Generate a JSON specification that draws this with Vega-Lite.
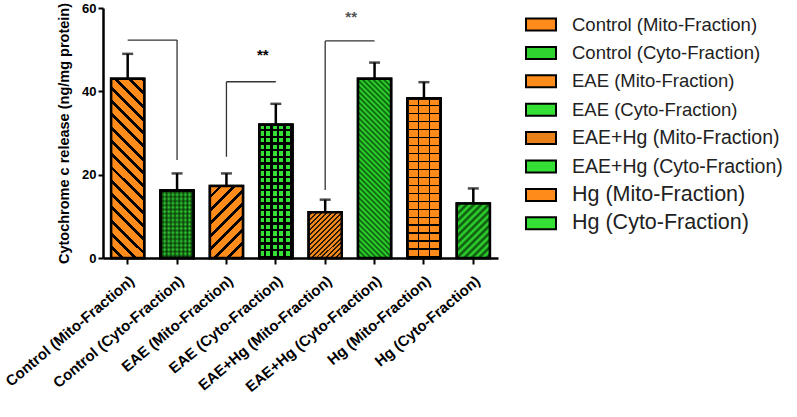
{
  "$schema": "https://vega.github.io/schema/vega-lite/v6.json",
  "width": 395,
  "height": 250,
  "autosize": {"type": "none"},
  "padding": {"left": 103, "top": 8, "right": 299, "bottom": 159},
  "background": "white",
  "config": {"view": {"stroke": null}, "font": "Liberation Sans"},
  "datasets": {
    "bars": [
      {"group": "Control (Mito-Fraction)", "mean": 43.0, "upper": 49.0},
      {"group": "Control (Cyto-Fraction)", "mean": 16.2, "upper": 20.3},
      {"group": "EAE (Mito-Fraction)", "mean": 17.3, "upper": 20.3},
      {"group": "EAE (Cyto-Fraction)", "mean": 32.0, "upper": 37.0},
      {"group": "EAE+Hg (Mito-Fraction)", "mean": 11.0, "upper": 14.0},
      {"group": "EAE+Hg (Cyto-Fraction)", "mean": 43.0, "upper": 46.9},
      {"group": "Hg (Mito-Fraction)", "mean": 38.3, "upper": 42.2},
      {"group": "Hg (Cyto-Fraction)", "mean": 13.1, "upper": 16.7}
    ],
    "hbr": [
      {"group": "Control (Mito-Fraction)", "group2": "Control (Cyto-Fraction)", "y": 52.3},
      {"group": "EAE (Mito-Fraction)", "group2": "EAE (Cyto-Fraction)", "y": 42.3},
      {"group": "EAE+Hg (Mito-Fraction)", "group2": "EAE+Hg (Cyto-Fraction)", "y": 52.1}
    ],
    "vbr": [
      {"group": "Control (Cyto-Fraction)", "y": 52.3, "y2": 23.5},
      {"group": "EAE (Mito-Fraction)", "y": 42.3, "y2": 24.3},
      {"group": "EAE+Hg (Mito-Fraction)", "y": 52.1, "y2": 16.3}
    ],
    "stars1": [{"group": "EAE (Cyto-Fraction)", "y": 48.7, "label": "**"}],
    "stars2": [{"group": "EAE+Hg (Mito-Fraction)", "y": 57.8, "label": "**"}]
  },
  "encoding": {
    "x": {
      "field": "group", "type": "nominal",
      "scale": {"domain": ["Control (Mito-Fraction)", "Control (Cyto-Fraction)", "EAE (Mito-Fraction)", "EAE (Cyto-Fraction)", "EAE+Hg (Mito-Fraction)", "EAE+Hg (Cyto-Fraction)", "Hg (Mito-Fraction)", "Hg (Cyto-Fraction)"], "paddingInner": 0.33, "paddingOuter": 0.165},
      "axis": {"title": null, "labelAngle": -40, "labelFontWeight": "bold", "labelFontSize": 15, "labelColor": "#000", "domainColor": "#000", "domainWidth": 2.5, "tickColor": "#000", "tickWidth": 2, "tickSize": 6, "labelPadding": 9}
    }
  },
  "layer": [
    {
      "data": {"name": "bars"},
      "mark": {"type": "bar", "stroke": "#000", "strokeWidth": 2.5, "fillOpacity": 1},
      "encoding": {
        "y": {"field": "mean", "type": "quantitative", "scale": {"domain": [0, 60], "nice": false},
          "axis": {"title": "Cytochrome c release (ng/mg protein)", "titleFontSize": 14.5, "titleFontWeight": "bold", "titleColor": "#000", "titlePadding": 10, "values": [0, 20, 40, 60], "labelFontSize": 13, "labelFontWeight": "bold", "labelColor": "#000", "domainColor": "#000", "domainWidth": 2.5, "tickColor": "#000", "tickWidth": 2, "tickSize": 5, "grid": false}},
        "color": {"field": "group", "type": "nominal",
          "scale": {"domain": ["Control (Mito-Fraction)", "Control (Cyto-Fraction)", "EAE (Mito-Fraction)", "EAE (Cyto-Fraction)", "EAE+Hg (Mito-Fraction)", "EAE+Hg (Cyto-Fraction)", "Hg (Mito-Fraction)", "Hg (Cyto-Fraction)"],
            "range": ["#ff8c1a", "#2fd42f", "#ff8c1a", "#33e033", "#e8801a", "#33e033", "#ff8c1a", "#33e033"]},
          "legend": {"title": null, "orient": "none", "legendX": 424.5, "legendY": 3, "symbolType": "M-1.2,-0.48H1.2V0.48H-1.2Z", "symbolSize": 625, "symbolStrokeColor": "#000", "symbolStrokeWidth": 2, "symbolOpacity": 1, "labelOffset": 17.5, "labelFontSize": 18.5, "labelColor": "#222", "labelLimit": 400, "rowPadding": 4.4,
            "encode": {"labels": {"update": {"fontSize": {"signal": "indexof('' + datum.value, 'EAE+Hg') >= 0 ? 19.5 : (indexof('' + datum.value, 'Hg') >= 0 ? 21.5 : 18.5)"}}}}}}
      }
    },
    {
      "data": {"name": "bars"},
      "transform": [{"filter": "datum.group === 'Control (Mito-Fraction)'"}],
      "mark": {"type": "bar", "stroke": "#000", "strokeWidth": 2.5,
        "fill": {"gradient": "linear", "x1": 0, "y1": 1, "x2": 0.2112, "y2": -0.1454, "stops": [
          {"offset": 0, "color": "#ff8c1a"}, {"offset": 0.0438, "color": "#ff8c1a"}, {"offset": 0.0438, "color": "#000"}, {"offset": 0.0625, "color": "#000"},
          {"offset": 0.0625, "color": "#ff8c1a"}, {"offset": 0.1063, "color": "#ff8c1a"}, {"offset": 0.1063, "color": "#000"}, {"offset": 0.125, "color": "#000"},
          {"offset": 0.125, "color": "#ff8c1a"}, {"offset": 0.1688, "color": "#ff8c1a"}, {"offset": 0.1688, "color": "#000"}, {"offset": 0.1875, "color": "#000"},
          {"offset": 0.1875, "color": "#ff8c1a"}, {"offset": 0.2313, "color": "#ff8c1a"}, {"offset": 0.2313, "color": "#000"}, {"offset": 0.25, "color": "#000"},
          {"offset": 0.25, "color": "#ff8c1a"}, {"offset": 0.2938, "color": "#ff8c1a"}, {"offset": 0.2938, "color": "#000"}, {"offset": 0.3125, "color": "#000"},
          {"offset": 0.3125, "color": "#ff8c1a"}, {"offset": 0.3563, "color": "#ff8c1a"}, {"offset": 0.3563, "color": "#000"}, {"offset": 0.375, "color": "#000"},
          {"offset": 0.375, "color": "#ff8c1a"}, {"offset": 0.4188, "color": "#ff8c1a"}, {"offset": 0.4188, "color": "#000"}, {"offset": 0.4375, "color": "#000"},
          {"offset": 0.4375, "color": "#ff8c1a"}, {"offset": 0.4813, "color": "#ff8c1a"}, {"offset": 0.4813, "color": "#000"}, {"offset": 0.5, "color": "#000"},
          {"offset": 0.5, "color": "#ff8c1a"}, {"offset": 0.5438, "color": "#ff8c1a"}, {"offset": 0.5438, "color": "#000"}, {"offset": 0.5625, "color": "#000"},
          {"offset": 0.5625, "color": "#ff8c1a"}, {"offset": 0.6063, "color": "#ff8c1a"}, {"offset": 0.6063, "color": "#000"}, {"offset": 0.625, "color": "#000"},
          {"offset": 0.625, "color": "#ff8c1a"}, {"offset": 0.6688, "color": "#ff8c1a"}, {"offset": 0.6688, "color": "#000"}, {"offset": 0.6875, "color": "#000"},
          {"offset": 0.6875, "color": "#ff8c1a"}, {"offset": 0.7313, "color": "#ff8c1a"}, {"offset": 0.7313, "color": "#000"}, {"offset": 0.75, "color": "#000"},
          {"offset": 0.75, "color": "#ff8c1a"}, {"offset": 0.7938, "color": "#ff8c1a"}, {"offset": 0.7938, "color": "#000"}, {"offset": 0.8125, "color": "#000"},
          {"offset": 0.8125, "color": "#ff8c1a"}, {"offset": 0.8563, "color": "#ff8c1a"}, {"offset": 0.8563, "color": "#000"}, {"offset": 0.875, "color": "#000"},
          {"offset": 0.875, "color": "#ff8c1a"}, {"offset": 0.9188, "color": "#ff8c1a"}, {"offset": 0.9188, "color": "#000"}, {"offset": 0.9375, "color": "#000"},
          {"offset": 0.9375, "color": "#ff8c1a"}, {"offset": 0.9813, "color": "#ff8c1a"}, {"offset": 0.9813, "color": "#000"}, {"offset": 1, "color": "#000"}
        ]}},
      "encoding": {"y": {"field": "mean", "type": "quantitative"}}
    },
    {
      "data": {"name": "bars"},
      "transform": [{"filter": "datum.group === 'Control (Cyto-Fraction)'"}],
      "mark": {"type": "bar", "stroke": "#000", "strokeWidth": 2.5,
        "fill": {"gradient": "linear", "x1": 0, "y1": 0, "x2": 1, "y2": 0, "stops": [
          {"offset": 0, "color": "#33e033"}, {"offset": 0.0625, "color": "#145814"}, {"offset": 0.125, "color": "#33e033"}, {"offset": 0.1875, "color": "#145814"},
          {"offset": 0.25, "color": "#33e033"}, {"offset": 0.3125, "color": "#145814"}, {"offset": 0.375, "color": "#33e033"}, {"offset": 0.4375, "color": "#145814"},
          {"offset": 0.5, "color": "#33e033"}, {"offset": 0.5625, "color": "#145814"}, {"offset": 0.625, "color": "#33e033"}, {"offset": 0.6875, "color": "#145814"},
          {"offset": 0.75, "color": "#33e033"}, {"offset": 0.8125, "color": "#145814"}, {"offset": 0.875, "color": "#33e033"}, {"offset": 0.9375, "color": "#145814"},
          {"offset": 1, "color": "#33e033"}
        ]}},
      "encoding": {"y": {"field": "mean", "type": "quantitative"}}
    },
    {
      "data": {"name": "bars"},
      "transform": [{"filter": "datum.group === 'Control (Cyto-Fraction)'"}],
      "mark": {"type": "bar", "stroke": "#000", "strokeWidth": 2.5,
        "fill": {"gradient": "linear", "x1": 0, "y1": 0, "x2": 0, "y2": 1, "stops": [
          {"offset": 0, "color": "rgba(0,0,0,0)"}, {"offset": 0.0313, "color": "rgba(0,30,0,0.55)"}, {"offset": 0.0625, "color": "rgba(0,0,0,0)"}, {"offset": 0.0938, "color": "rgba(0,30,0,0.55)"},
          {"offset": 0.125, "color": "rgba(0,0,0,0)"}, {"offset": 0.1563, "color": "rgba(0,30,0,0.55)"}, {"offset": 0.1875, "color": "rgba(0,0,0,0)"}, {"offset": 0.2188, "color": "rgba(0,30,0,0.55)"},
          {"offset": 0.25, "color": "rgba(0,0,0,0)"}, {"offset": 0.2813, "color": "rgba(0,30,0,0.55)"}, {"offset": 0.3125, "color": "rgba(0,0,0,0)"}, {"offset": 0.3438, "color": "rgba(0,30,0,0.55)"},
          {"offset": 0.375, "color": "rgba(0,0,0,0)"}, {"offset": 0.4063, "color": "rgba(0,30,0,0.55)"}, {"offset": 0.4375, "color": "rgba(0,0,0,0)"}, {"offset": 0.4688, "color": "rgba(0,30,0,0.55)"},
          {"offset": 0.5, "color": "rgba(0,0,0,0)"}, {"offset": 0.5313, "color": "rgba(0,30,0,0.55)"}, {"offset": 0.5625, "color": "rgba(0,0,0,0)"}, {"offset": 0.5938, "color": "rgba(0,30,0,0.55)"},
          {"offset": 0.625, "color": "rgba(0,0,0,0)"}, {"offset": 0.6563, "color": "rgba(0,30,0,0.55)"}, {"offset": 0.6875, "color": "rgba(0,0,0,0)"}, {"offset": 0.7188, "color": "rgba(0,30,0,0.55)"},
          {"offset": 0.75, "color": "rgba(0,0,0,0)"}, {"offset": 0.7813, "color": "rgba(0,30,0,0.55)"}, {"offset": 0.8125, "color": "rgba(0,0,0,0)"}, {"offset": 0.8438, "color": "rgba(0,30,0,0.55)"},
          {"offset": 0.875, "color": "rgba(0,0,0,0)"}, {"offset": 0.9063, "color": "rgba(0,30,0,0.55)"}, {"offset": 0.9375, "color": "rgba(0,0,0,0)"}, {"offset": 0.9688, "color": "rgba(0,30,0,0.55)"},
          {"offset": 1, "color": "rgba(0,0,0,0)"}
        ]}},
      "encoding": {"y": {"field": "mean", "type": "quantitative"}}
    },
    {
      "data": {"name": "bars"},
      "transform": [{"filter": "datum.group === 'EAE (Mito-Fraction)'"}],
      "mark": {"type": "bar", "stroke": "#000", "strokeWidth": 2.5,
        "fill": {"gradient": "linear", "x1": 0, "y1": 0, "x2": 0.5524, "y2": 1.2051, "stops": [
          {"offset": 0, "color": "#ff8c1a"}, {"offset": 0.0875, "color": "#ff8c1a"}, {"offset": 0.0875, "color": "#000"}, {"offset": 0.125, "color": "#000"},
          {"offset": 0.125, "color": "#ff8c1a"}, {"offset": 0.2125, "color": "#ff8c1a"}, {"offset": 0.2125, "color": "#000"}, {"offset": 0.25, "color": "#000"},
          {"offset": 0.25, "color": "#ff8c1a"}, {"offset": 0.3375, "color": "#ff8c1a"}, {"offset": 0.3375, "color": "#000"}, {"offset": 0.375, "color": "#000"},
          {"offset": 0.375, "color": "#ff8c1a"}, {"offset": 0.4625, "color": "#ff8c1a"}, {"offset": 0.4625, "color": "#000"}, {"offset": 0.5, "color": "#000"},
          {"offset": 0.5, "color": "#ff8c1a"}, {"offset": 0.5875, "color": "#ff8c1a"}, {"offset": 0.5875, "color": "#000"}, {"offset": 0.625, "color": "#000"},
          {"offset": 0.625, "color": "#ff8c1a"}, {"offset": 0.7125, "color": "#ff8c1a"}, {"offset": 0.7125, "color": "#000"}, {"offset": 0.75, "color": "#000"},
          {"offset": 0.75, "color": "#ff8c1a"}, {"offset": 0.8375, "color": "#ff8c1a"}, {"offset": 0.8375, "color": "#000"}, {"offset": 0.875, "color": "#000"},
          {"offset": 0.875, "color": "#ff8c1a"}, {"offset": 0.9625, "color": "#ff8c1a"}, {"offset": 0.9625, "color": "#000"}, {"offset": 1, "color": "#000"}
        ]}},
      "encoding": {"y": {"field": "mean", "type": "quantitative"}}
    },
    {
      "data": {"name": "bars"},
      "transform": [{"filter": "datum.group === 'EAE (Cyto-Fraction)'"}],
      "mark": {"type": "bar", "stroke": "#000", "strokeWidth": 2.5,
        "fill": {"gradient": "linear", "x1": 0, "y1": 0, "x2": 1, "y2": 0, "stops": [
          {"offset": 0, "color": "#33e033"}, {"offset": 0.13, "color": "#33e033"}, {"offset": 0.13, "color": "#000"}, {"offset": 0.2, "color": "#000"},
          {"offset": 0.2, "color": "#33e033"}, {"offset": 0.33, "color": "#33e033"}, {"offset": 0.33, "color": "#000"}, {"offset": 0.4, "color": "#000"},
          {"offset": 0.4, "color": "#33e033"}, {"offset": 0.53, "color": "#33e033"}, {"offset": 0.53, "color": "#000"}, {"offset": 0.6, "color": "#000"},
          {"offset": 0.6, "color": "#33e033"}, {"offset": 0.73, "color": "#33e033"}, {"offset": 0.73, "color": "#000"}, {"offset": 0.8, "color": "#000"},
          {"offset": 0.8, "color": "#33e033"}, {"offset": 0.93, "color": "#33e033"}, {"offset": 0.93, "color": "#000"}, {"offset": 1, "color": "#000"}
        ]}},
      "encoding": {"y": {"field": "mean", "type": "quantitative"}}
    },
    {
      "data": {"name": "bars"},
      "transform": [{"filter": "datum.group === 'EAE (Cyto-Fraction)'"}],
      "mark": {"type": "bar", "stroke": "#000", "strokeWidth": 2.5,
        "fill": {"gradient": "linear", "x1": 0, "y1": 0, "x2": 0, "y2": 1, "stops": [
          {"offset": 0, "color": "rgba(0,0,0,0)"}, {"offset": 0.0325, "color": "rgba(0,0,0,0)"}, {"offset": 0.0325, "color": "#000"}, {"offset": 0.05, "color": "#000"},
          {"offset": 0.05, "color": "rgba(0,0,0,0)"}, {"offset": 0.0825, "color": "rgba(0,0,0,0)"}, {"offset": 0.0825, "color": "#000"}, {"offset": 0.1, "color": "#000"},
          {"offset": 0.1, "color": "rgba(0,0,0,0)"}, {"offset": 0.1325, "color": "rgba(0,0,0,0)"}, {"offset": 0.1325, "color": "#000"}, {"offset": 0.15, "color": "#000"},
          {"offset": 0.15, "color": "rgba(0,0,0,0)"}, {"offset": 0.1825, "color": "rgba(0,0,0,0)"}, {"offset": 0.1825, "color": "#000"}, {"offset": 0.2, "color": "#000"},
          {"offset": 0.2, "color": "rgba(0,0,0,0)"}, {"offset": 0.2325, "color": "rgba(0,0,0,0)"}, {"offset": 0.2325, "color": "#000"}, {"offset": 0.25, "color": "#000"},
          {"offset": 0.25, "color": "rgba(0,0,0,0)"}, {"offset": 0.2825, "color": "rgba(0,0,0,0)"}, {"offset": 0.2825, "color": "#000"}, {"offset": 0.3, "color": "#000"},
          {"offset": 0.3, "color": "rgba(0,0,0,0)"}, {"offset": 0.3325, "color": "rgba(0,0,0,0)"}, {"offset": 0.3325, "color": "#000"}, {"offset": 0.35, "color": "#000"},
          {"offset": 0.35, "color": "rgba(0,0,0,0)"}, {"offset": 0.3825, "color": "rgba(0,0,0,0)"}, {"offset": 0.3825, "color": "#000"}, {"offset": 0.4, "color": "#000"},
          {"offset": 0.4, "color": "rgba(0,0,0,0)"}, {"offset": 0.4325, "color": "rgba(0,0,0,0)"}, {"offset": 0.4325, "color": "#000"}, {"offset": 0.45, "color": "#000"},
          {"offset": 0.45, "color": "rgba(0,0,0,0)"}, {"offset": 0.4825, "color": "rgba(0,0,0,0)"}, {"offset": 0.4825, "color": "#000"}, {"offset": 0.5, "color": "#000"},
          {"offset": 0.5, "color": "rgba(0,0,0,0)"}, {"offset": 0.5325, "color": "rgba(0,0,0,0)"}, {"offset": 0.5325, "color": "#000"}, {"offset": 0.55, "color": "#000"},
          {"offset": 0.55, "color": "rgba(0,0,0,0)"}, {"offset": 0.5825, "color": "rgba(0,0,0,0)"}, {"offset": 0.5825, "color": "#000"}, {"offset": 0.6, "color": "#000"},
          {"offset": 0.6, "color": "rgba(0,0,0,0)"}, {"offset": 0.6325, "color": "rgba(0,0,0,0)"}, {"offset": 0.6325, "color": "#000"}, {"offset": 0.65, "color": "#000"},
          {"offset": 0.65, "color": "rgba(0,0,0,0)"}, {"offset": 0.6825, "color": "rgba(0,0,0,0)"}, {"offset": 0.6825, "color": "#000"}, {"offset": 0.7, "color": "#000"},
          {"offset": 0.7, "color": "rgba(0,0,0,0)"}, {"offset": 0.7325, "color": "rgba(0,0,0,0)"}, {"offset": 0.7325, "color": "#000"}, {"offset": 0.75, "color": "#000"},
          {"offset": 0.75, "color": "rgba(0,0,0,0)"}, {"offset": 0.7825, "color": "rgba(0,0,0,0)"}, {"offset": 0.7825, "color": "#000"}, {"offset": 0.8, "color": "#000"},
          {"offset": 0.8, "color": "rgba(0,0,0,0)"}, {"offset": 0.8325, "color": "rgba(0,0,0,0)"}, {"offset": 0.8325, "color": "#000"}, {"offset": 0.85, "color": "#000"},
          {"offset": 0.85, "color": "rgba(0,0,0,0)"}, {"offset": 0.8825, "color": "rgba(0,0,0,0)"}, {"offset": 0.8825, "color": "#000"}, {"offset": 0.9, "color": "#000"},
          {"offset": 0.9, "color": "rgba(0,0,0,0)"}, {"offset": 0.9325, "color": "rgba(0,0,0,0)"}, {"offset": 0.9325, "color": "#000"}, {"offset": 0.95, "color": "#000"},
          {"offset": 0.95, "color": "rgba(0,0,0,0)"}, {"offset": 0.9825, "color": "rgba(0,0,0,0)"}, {"offset": 0.9825, "color": "#000"}, {"offset": 1, "color": "#000"}
        ]}},
      "encoding": {"y": {"field": "mean", "type": "quantitative"}}
    },
    {
      "data": {"name": "bars"},
      "transform": [{"filter": "datum.group === 'EAE+Hg (Mito-Fraction)'"}],
      "mark": {"type": "bar", "stroke": "#000", "strokeWidth": 2.5,
        "fill": {"gradient": "linear", "x1": 0, "y1": 0, "x2": 0.8134, "y2": 1.1339, "stops": [
          {"offset": 0, "color": "#ee861e"}, {"offset": 0.0375, "color": "#ee861e"}, {"offset": 0.0375, "color": "#2a1800"}, {"offset": 0.0625, "color": "#2a1800"},
          {"offset": 0.0625, "color": "#ee861e"}, {"offset": 0.1, "color": "#ee861e"}, {"offset": 0.1, "color": "#2a1800"}, {"offset": 0.125, "color": "#2a1800"},
          {"offset": 0.125, "color": "#ee861e"}, {"offset": 0.1625, "color": "#ee861e"}, {"offset": 0.1625, "color": "#2a1800"}, {"offset": 0.1875, "color": "#2a1800"},
          {"offset": 0.1875, "color": "#ee861e"}, {"offset": 0.225, "color": "#ee861e"}, {"offset": 0.225, "color": "#2a1800"}, {"offset": 0.25, "color": "#2a1800"},
          {"offset": 0.25, "color": "#ee861e"}, {"offset": 0.2875, "color": "#ee861e"}, {"offset": 0.2875, "color": "#2a1800"}, {"offset": 0.3125, "color": "#2a1800"},
          {"offset": 0.3125, "color": "#ee861e"}, {"offset": 0.35, "color": "#ee861e"}, {"offset": 0.35, "color": "#2a1800"}, {"offset": 0.375, "color": "#2a1800"},
          {"offset": 0.375, "color": "#ee861e"}, {"offset": 0.4125, "color": "#ee861e"}, {"offset": 0.4125, "color": "#2a1800"}, {"offset": 0.4375, "color": "#2a1800"},
          {"offset": 0.4375, "color": "#ee861e"}, {"offset": 0.475, "color": "#ee861e"}, {"offset": 0.475, "color": "#2a1800"}, {"offset": 0.5, "color": "#2a1800"},
          {"offset": 0.5, "color": "#ee861e"}, {"offset": 0.5375, "color": "#ee861e"}, {"offset": 0.5375, "color": "#2a1800"}, {"offset": 0.5625, "color": "#2a1800"},
          {"offset": 0.5625, "color": "#ee861e"}, {"offset": 0.6, "color": "#ee861e"}, {"offset": 0.6, "color": "#2a1800"}, {"offset": 0.625, "color": "#2a1800"},
          {"offset": 0.625, "color": "#ee861e"}, {"offset": 0.6625, "color": "#ee861e"}, {"offset": 0.6625, "color": "#2a1800"}, {"offset": 0.6875, "color": "#2a1800"},
          {"offset": 0.6875, "color": "#ee861e"}, {"offset": 0.725, "color": "#ee861e"}, {"offset": 0.725, "color": "#2a1800"}, {"offset": 0.75, "color": "#2a1800"},
          {"offset": 0.75, "color": "#ee861e"}, {"offset": 0.7875, "color": "#ee861e"}, {"offset": 0.7875, "color": "#2a1800"}, {"offset": 0.8125, "color": "#2a1800"},
          {"offset": 0.8125, "color": "#ee861e"}, {"offset": 0.85, "color": "#ee861e"}, {"offset": 0.85, "color": "#2a1800"}, {"offset": 0.875, "color": "#2a1800"},
          {"offset": 0.875, "color": "#ee861e"}, {"offset": 0.9125, "color": "#ee861e"}, {"offset": 0.9125, "color": "#2a1800"}, {"offset": 0.9375, "color": "#2a1800"},
          {"offset": 0.9375, "color": "#ee861e"}, {"offset": 0.975, "color": "#ee861e"}, {"offset": 0.975, "color": "#2a1800"}, {"offset": 1, "color": "#2a1800"}
        ]}},
      "encoding": {"y": {"field": "mean", "type": "quantitative"}}
    },
    {
      "data": {"name": "bars"},
      "transform": [{"filter": "datum.group === 'EAE+Hg (Cyto-Fraction)'"}],
      "mark": {"type": "bar", "stroke": "#000", "strokeWidth": 2.5,
        "fill": {"gradient": "linear", "x1": 0, "y1": 1, "x2": 0.2112, "y2": -0.1454, "stops": [
          {"offset": 0, "color": "#33e033"}, {"offset": 0.0125, "color": "#0a5a0a"}, {"offset": 0.025, "color": "#33e033"}, {"offset": 0.0375, "color": "#0a5a0a"},
          {"offset": 0.05, "color": "#33e033"}, {"offset": 0.0625, "color": "#0a5a0a"}, {"offset": 0.075, "color": "#33e033"}, {"offset": 0.0875, "color": "#0a5a0a"},
          {"offset": 0.1, "color": "#33e033"}, {"offset": 0.1125, "color": "#0a5a0a"}, {"offset": 0.125, "color": "#33e033"}, {"offset": 0.1375, "color": "#0a5a0a"},
          {"offset": 0.15, "color": "#33e033"}, {"offset": 0.1625, "color": "#0a5a0a"}, {"offset": 0.175, "color": "#33e033"}, {"offset": 0.1875, "color": "#0a5a0a"},
          {"offset": 0.2, "color": "#33e033"}, {"offset": 0.2125, "color": "#0a5a0a"}, {"offset": 0.225, "color": "#33e033"}, {"offset": 0.2375, "color": "#0a5a0a"},
          {"offset": 0.25, "color": "#33e033"}, {"offset": 0.2625, "color": "#0a5a0a"}, {"offset": 0.275, "color": "#33e033"}, {"offset": 0.2875, "color": "#0a5a0a"},
          {"offset": 0.3, "color": "#33e033"}, {"offset": 0.3125, "color": "#0a5a0a"}, {"offset": 0.325, "color": "#33e033"}, {"offset": 0.3375, "color": "#0a5a0a"},
          {"offset": 0.35, "color": "#33e033"}, {"offset": 0.3625, "color": "#0a5a0a"}, {"offset": 0.375, "color": "#33e033"}, {"offset": 0.3875, "color": "#0a5a0a"},
          {"offset": 0.4, "color": "#33e033"}, {"offset": 0.4125, "color": "#0a5a0a"}, {"offset": 0.425, "color": "#33e033"}, {"offset": 0.4375, "color": "#0a5a0a"},
          {"offset": 0.45, "color": "#33e033"}, {"offset": 0.4625, "color": "#0a5a0a"}, {"offset": 0.475, "color": "#33e033"}, {"offset": 0.4875, "color": "#0a5a0a"},
          {"offset": 0.5, "color": "#33e033"}, {"offset": 0.5125, "color": "#0a5a0a"}, {"offset": 0.525, "color": "#33e033"}, {"offset": 0.5375, "color": "#0a5a0a"},
          {"offset": 0.55, "color": "#33e033"}, {"offset": 0.5625, "color": "#0a5a0a"}, {"offset": 0.575, "color": "#33e033"}, {"offset": 0.5875, "color": "#0a5a0a"},
          {"offset": 0.6, "color": "#33e033"}, {"offset": 0.6125, "color": "#0a5a0a"}, {"offset": 0.625, "color": "#33e033"}, {"offset": 0.6375, "color": "#0a5a0a"},
          {"offset": 0.65, "color": "#33e033"}, {"offset": 0.6625, "color": "#0a5a0a"}, {"offset": 0.675, "color": "#33e033"}, {"offset": 0.6875, "color": "#0a5a0a"},
          {"offset": 0.7, "color": "#33e033"}, {"offset": 0.7125, "color": "#0a5a0a"}, {"offset": 0.725, "color": "#33e033"}, {"offset": 0.7375, "color": "#0a5a0a"},
          {"offset": 0.75, "color": "#33e033"}, {"offset": 0.7625, "color": "#0a5a0a"}, {"offset": 0.775, "color": "#33e033"}, {"offset": 0.7875, "color": "#0a5a0a"},
          {"offset": 0.8, "color": "#33e033"}, {"offset": 0.8125, "color": "#0a5a0a"}, {"offset": 0.825, "color": "#33e033"}, {"offset": 0.8375, "color": "#0a5a0a"},
          {"offset": 0.85, "color": "#33e033"}, {"offset": 0.8625, "color": "#0a5a0a"}, {"offset": 0.875, "color": "#33e033"}, {"offset": 0.8875, "color": "#0a5a0a"},
          {"offset": 0.9, "color": "#33e033"}, {"offset": 0.9125, "color": "#0a5a0a"}, {"offset": 0.925, "color": "#33e033"}, {"offset": 0.9375, "color": "#0a5a0a"},
          {"offset": 0.95, "color": "#33e033"}, {"offset": 0.9625, "color": "#0a5a0a"}, {"offset": 0.975, "color": "#33e033"}, {"offset": 0.9875, "color": "#0a5a0a"},
          {"offset": 1, "color": "#33e033"}
        ]}},
      "encoding": {"y": {"field": "mean", "type": "quantitative"}}
    },
    {
      "data": {"name": "bars"},
      "transform": [{"filter": "datum.group === 'Hg (Mito-Fraction)'"}],
      "mark": {"type": "bar", "stroke": "#000", "strokeWidth": 2.5,
        "fill": {"gradient": "linear", "x1": 0, "y1": 0, "x2": 1, "y2": 0, "stops": [
          {"offset": 0, "color": "#ff8c1a"}, {"offset": 0.31, "color": "#ff8c1a"}, {"offset": 0.31, "color": "#000"}, {"offset": 0.355, "color": "#000"},
          {"offset": 0.355, "color": "#ff8c1a"}, {"offset": 0.645, "color": "#ff8c1a"}, {"offset": 0.645, "color": "#000"}, {"offset": 0.69, "color": "#000"},
          {"offset": 0.69, "color": "#ff8c1a"}, {"offset": 1, "color": "#ff8c1a"}
        ]}},
      "encoding": {"y": {"field": "mean", "type": "quantitative"}}
    },
    {
      "data": {"name": "bars"},
      "transform": [{"filter": "datum.group === 'Hg (Mito-Fraction)'"}],
      "mark": {"type": "bar", "stroke": "#000", "strokeWidth": 2.5,
        "fill": {"gradient": "linear", "x1": 0, "y1": 0, "x2": 0, "y2": 1, "stops": [
          {"offset": 0, "color": "rgba(0,0,0,0)"}, {"offset": 0.04, "color": "rgba(0,0,0,0)"}, {"offset": 0.04, "color": "#000"}, {"offset": 0.05, "color": "#000"},
          {"offset": 0.05, "color": "rgba(0,0,0,0)"}, {"offset": 0.09, "color": "rgba(0,0,0,0)"}, {"offset": 0.09, "color": "#000"}, {"offset": 0.1, "color": "#000"},
          {"offset": 0.1, "color": "rgba(0,0,0,0)"}, {"offset": 0.14, "color": "rgba(0,0,0,0)"}, {"offset": 0.14, "color": "#000"}, {"offset": 0.15, "color": "#000"},
          {"offset": 0.15, "color": "rgba(0,0,0,0)"}, {"offset": 0.19, "color": "rgba(0,0,0,0)"}, {"offset": 0.19, "color": "#000"}, {"offset": 0.2, "color": "#000"},
          {"offset": 0.2, "color": "rgba(0,0,0,0)"}, {"offset": 0.24, "color": "rgba(0,0,0,0)"}, {"offset": 0.24, "color": "#000"}, {"offset": 0.25, "color": "#000"},
          {"offset": 0.25, "color": "rgba(0,0,0,0)"}, {"offset": 0.29, "color": "rgba(0,0,0,0)"}, {"offset": 0.29, "color": "#000"}, {"offset": 0.3, "color": "#000"},
          {"offset": 0.3, "color": "rgba(0,0,0,0)"}, {"offset": 0.34, "color": "rgba(0,0,0,0)"}, {"offset": 0.34, "color": "#000"}, {"offset": 0.35, "color": "#000"},
          {"offset": 0.35, "color": "rgba(0,0,0,0)"}, {"offset": 0.39, "color": "rgba(0,0,0,0)"}, {"offset": 0.39, "color": "#000"}, {"offset": 0.4, "color": "#000"},
          {"offset": 0.4, "color": "rgba(0,0,0,0)"}, {"offset": 0.44, "color": "rgba(0,0,0,0)"}, {"offset": 0.44, "color": "#000"}, {"offset": 0.45, "color": "#000"},
          {"offset": 0.45, "color": "rgba(0,0,0,0)"}, {"offset": 0.49, "color": "rgba(0,0,0,0)"}, {"offset": 0.49, "color": "#000"}, {"offset": 0.5, "color": "#000"},
          {"offset": 0.5, "color": "rgba(0,0,0,0)"}, {"offset": 0.54, "color": "rgba(0,0,0,0)"}, {"offset": 0.54, "color": "#000"}, {"offset": 0.55, "color": "#000"},
          {"offset": 0.55, "color": "rgba(0,0,0,0)"}, {"offset": 0.59, "color": "rgba(0,0,0,0)"}, {"offset": 0.59, "color": "#000"}, {"offset": 0.6, "color": "#000"},
          {"offset": 0.6, "color": "rgba(0,0,0,0)"}, {"offset": 0.64, "color": "rgba(0,0,0,0)"}, {"offset": 0.64, "color": "#000"}, {"offset": 0.65, "color": "#000"},
          {"offset": 0.65, "color": "rgba(0,0,0,0)"}, {"offset": 0.69, "color": "rgba(0,0,0,0)"}, {"offset": 0.69, "color": "#000"}, {"offset": 0.7, "color": "#000"},
          {"offset": 0.7, "color": "rgba(0,0,0,0)"}, {"offset": 0.74, "color": "rgba(0,0,0,0)"}, {"offset": 0.74, "color": "#000"}, {"offset": 0.75, "color": "#000"},
          {"offset": 0.75, "color": "rgba(0,0,0,0)"}, {"offset": 0.79, "color": "rgba(0,0,0,0)"}, {"offset": 0.79, "color": "#000"}, {"offset": 0.8, "color": "#000"},
          {"offset": 0.8, "color": "rgba(0,0,0,0)"}, {"offset": 0.84, "color": "rgba(0,0,0,0)"}, {"offset": 0.84, "color": "#000"}, {"offset": 0.85, "color": "#000"},
          {"offset": 0.85, "color": "rgba(0,0,0,0)"}, {"offset": 0.89, "color": "rgba(0,0,0,0)"}, {"offset": 0.89, "color": "#000"}, {"offset": 0.9, "color": "#000"},
          {"offset": 0.9, "color": "rgba(0,0,0,0)"}, {"offset": 0.94, "color": "rgba(0,0,0,0)"}, {"offset": 0.94, "color": "#000"}, {"offset": 0.95, "color": "#000"},
          {"offset": 0.95, "color": "rgba(0,0,0,0)"}, {"offset": 0.99, "color": "rgba(0,0,0,0)"}, {"offset": 0.99, "color": "#000"}, {"offset": 1, "color": "#000"}
        ]}},
      "encoding": {"y": {"field": "mean", "type": "quantitative"}}
    },
    {
      "data": {"name": "bars"},
      "transform": [{"filter": "datum.group === 'Hg (Cyto-Fraction)'"}],
      "mark": {"type": "bar", "stroke": "#000", "strokeWidth": 2.5,
        "fill": {"gradient": "linear", "x1": 0, "y1": 0, "x2": 0.7059, "y2": 1.1765, "stops": [
          {"offset": 0, "color": "#33e033"}, {"offset": 0.0417, "color": "#0a4a0a"}, {"offset": 0.0833, "color": "#33e033"}, {"offset": 0.125, "color": "#0a4a0a"},
          {"offset": 0.1667, "color": "#33e033"}, {"offset": 0.2083, "color": "#0a4a0a"}, {"offset": 0.25, "color": "#33e033"}, {"offset": 0.2917, "color": "#0a4a0a"},
          {"offset": 0.3333, "color": "#33e033"}, {"offset": 0.375, "color": "#0a4a0a"}, {"offset": 0.4167, "color": "#33e033"}, {"offset": 0.4583, "color": "#0a4a0a"},
          {"offset": 0.5, "color": "#33e033"}, {"offset": 0.5417, "color": "#0a4a0a"}, {"offset": 0.5833, "color": "#33e033"}, {"offset": 0.625, "color": "#0a4a0a"},
          {"offset": 0.6667, "color": "#33e033"}, {"offset": 0.7083, "color": "#0a4a0a"}, {"offset": 0.75, "color": "#33e033"}, {"offset": 0.7917, "color": "#0a4a0a"},
          {"offset": 0.8333, "color": "#33e033"}, {"offset": 0.875, "color": "#0a4a0a"}, {"offset": 0.9167, "color": "#33e033"}, {"offset": 0.9583, "color": "#0a4a0a"},
          {"offset": 1, "color": "#33e033"}
        ]}},
      "encoding": {"y": {"field": "mean", "type": "quantitative"}}
    },
    {
      "data": {"name": "bars"},
      "mark": {"type": "rule", "color": "#000", "strokeWidth": 2.5},
      "encoding": {"y": {"field": "mean", "type": "quantitative"}, "y2": {"field": "upper"}}
    },
    {
      "data": {"name": "bars"},
      "mark": {"type": "tick", "color": "#000", "thickness": 2.5, "size": 11, "orient": "horizontal"},
      "encoding": {"y": {"field": "upper", "type": "quantitative"}}
    },
    {
      "data": {"name": "hbr"},
      "mark": {"type": "rule", "color": "#333", "strokeWidth": 1.3},
      "encoding": {"x": {"field": "group", "type": "nominal", "bandPosition": 0.5}, "x2": {"field": "group2", "bandPosition": 0.5}, "y": {"field": "y", "type": "quantitative"}}
    },
    {
      "data": {"name": "vbr"},
      "mark": {"type": "rule", "color": "#333", "strokeWidth": 1.3},
      "encoding": {"y": {"field": "y", "type": "quantitative"}, "y2": {"field": "y2"}}
    },
    {
      "data": {"name": "stars1"},
      "mark": {"type": "text", "dx": -13, "fontSize": 15, "fontWeight": "bold", "color": "#000", "baseline": "middle"},
      "encoding": {"y": {"field": "y", "type": "quantitative"}, "text": {"field": "label"}}
    },
    {
      "data": {"name": "stars2"},
      "mark": {"type": "text", "dx": 26, "fontSize": 15, "fontWeight": "bold", "color": "#555", "baseline": "middle"},
      "encoding": {"y": {"field": "y", "type": "quantitative"}, "text": {"field": "label"}}
    }
  ]
}
